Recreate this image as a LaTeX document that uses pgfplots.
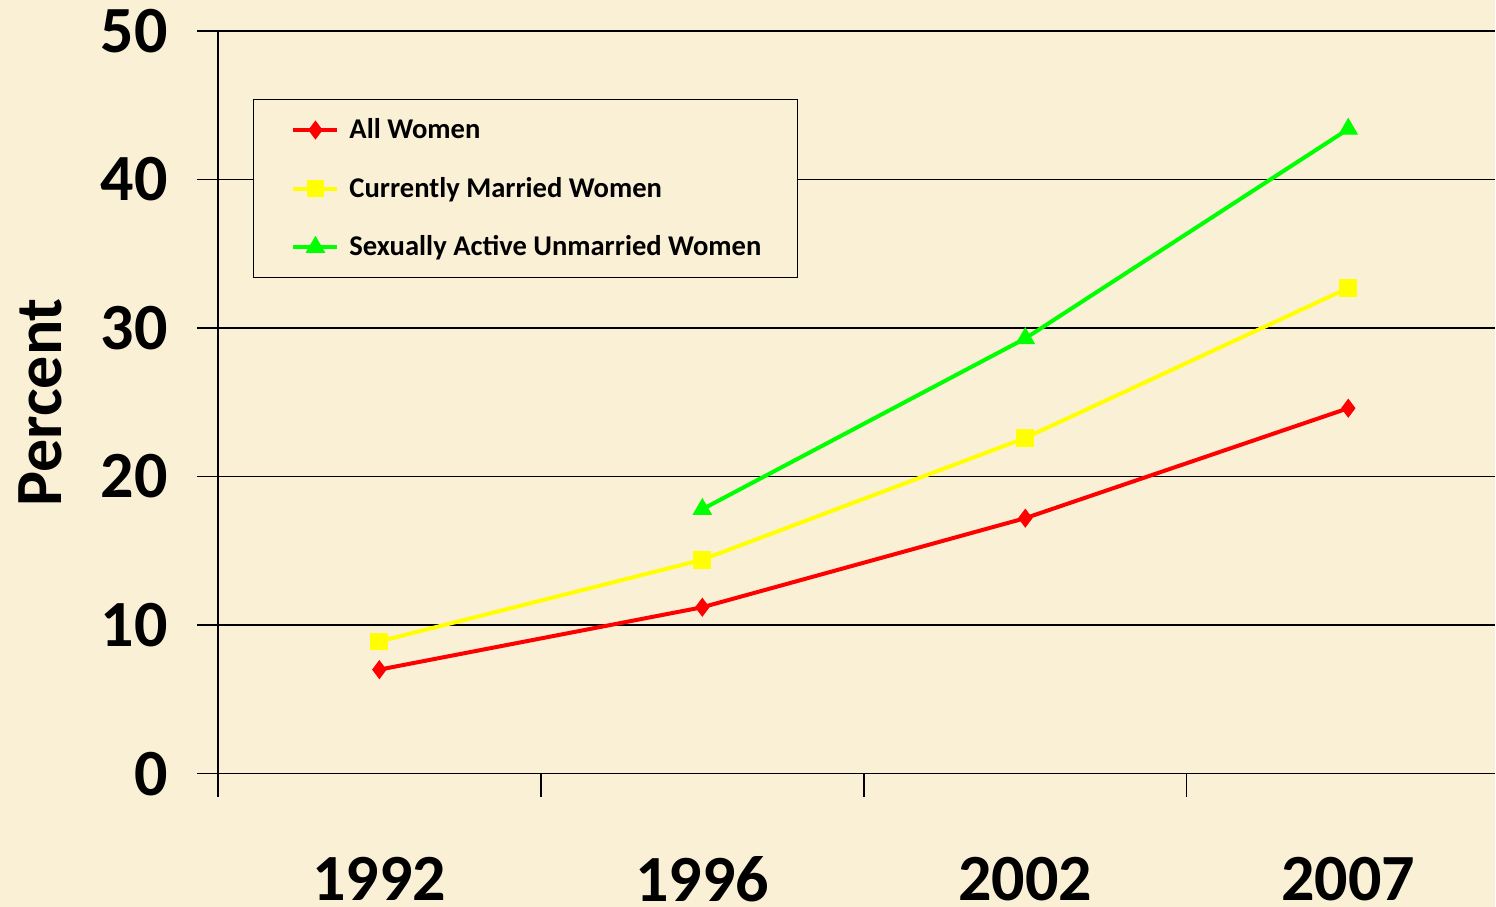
\documentclass[border=0pt]{standalone}
\usepackage{pgfplots}
\pgfplotsset{compat=1.18}
\usepackage{fontspec}
\setmainfont{Carlito}
\definecolor{bgc}{RGB}{250,240,214}
\definecolor{cred}{RGB}{255,0,0}
\definecolor{cyel}{RGB}{255,255,0}
\definecolor{cgrn}{RGB}{0,255,0}
\begin{document}
\begin{tikzpicture}
\fill[bgc] (0,0) rectangle (748pt,453.5pt);
\begin{axis}[
  at={(109pt,66.5pt)}, anchor=south west,
  scale only axis,
  width=639pt, height=371.5pt,
  xmin=-0.5, xmax=3.455,
  ymin=0, ymax=50,
  ytick={0,10,20,30,40,50},
  xtick={0,1,2,3},
  xticklabels={1992,1996,2002,2007},
  minor xtick={-0.5,0.5,1.5,2.5},
  axis x line*=bottom,
  axis y line*=left,
  axis line style={black, line width=0.8pt, -},
  tick align=outside,
  major x tick style={draw=none},
  minor x tick style={black, line width=0.7pt},
  minor tick length=11.5pt,
  major tick length=10.5pt,
  y tick style={black, line width=0.7pt},
  ymajorgrids,
  grid style={black, line width=0.8pt},
  /pgf/number format/assume math mode=true,
  ticklabel style={font=\fontsize{33}{33}\selectfont\bfseries, inner sep=0pt},
  xticklabel style={yshift=-31pt},
  yticklabel style={xshift=-14.5pt},
  ylabel={Percent},
  ylabel style={font=\fontsize{33}{33}\selectfont\bfseries, at={(axis description cs:-0.139,0.5)}, anchor=center, rotate=0},
  legend style={at={(0.0274,0.9085)}, anchor=north west, draw=black, line width=0.6pt, fill=bgc,
    font=\fontsize{14.3}{14.3}\selectfont\bfseries, row sep=13.75pt, inner xsep=16pt, inner ysep=7.5pt},
  legend cell align=left,
  legend image code/.code={\path (-3pt,0pt) (25pt,0pt);\draw[mark repeat=2,mark phase=2,#1] plot coordinates {(0pt,0pt)(11pt,0pt)(22pt,0pt)};},
  clip=false,
]
\addplot[cred, line width=2pt, mark=diamond*, mark size=4.4pt, mark options={solid, fill=cred, draw=cred, line width=0.5pt}]
  coordinates {(0,7.0) (1,11.2) (2,17.2) (3,24.6)};
\addlegendentry{All Women}
\addplot[cyel, line width=2pt, mark=square*, mark size=4.2pt, mark options={solid, fill=cyel, draw=cyel, line width=0.5pt}]
  coordinates {(0,8.9) (1,14.4) (2,22.6) (3,32.7)};
\addlegendentry{Currently Married Women}
\addplot[cgrn, line width=2pt, mark=triangle*, mark size=5.2pt, mark options={solid, fill=cgrn, draw=cgrn, line width=0.5pt}]
  coordinates {(1,17.8) (2,29.3) (3,43.4)};
\addlegendentry{Sexually Active Unmarried Women}
\end{axis}
\end{tikzpicture}
\end{document}
